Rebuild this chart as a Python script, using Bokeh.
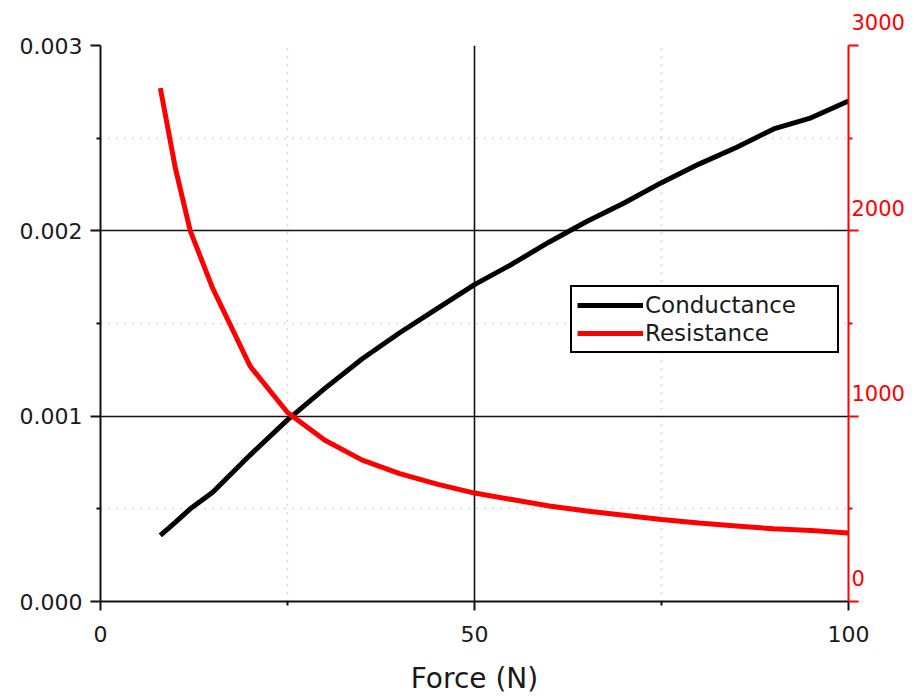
from bokeh.plotting import figure
from bokeh.models import (Range1d, LinearAxis, FixedTicker, PrintfTickFormatter,
                          Legend, LegendItem)
from bokeh.embed import file_html
from bokeh.resources import INLINE

# ---- data ----
force = [8, 10, 12, 15, 20, 25, 30, 35, 40, 45, 50, 55, 60, 65, 70, 75, 80, 85, 90, 95, 100]
conductance = [0.000357, 0.000427, 0.000500, 0.000590, 0.000790, 0.000980, 0.001150,
               0.001310, 0.001450, 0.001580, 0.001710, 0.001820, 0.001940, 0.002050,
               0.002150, 0.002260, 0.002360, 0.002450, 0.002550, 0.002610, 0.002700]
resistance = [2770, 2340, 2000, 1690, 1270, 1020, 870, 763, 690, 633, 585, 550, 515,
              488, 465, 442, 424, 408, 392, 383, 370]

x_ticks = [0, 50, 100]
x_minor = [25, 75]
left_ticks = [0.0, 0.001, 0.002, 0.003]
left_minor = [0.0005, 0.0015, 0.0025]
right_ticks = [0, 1000, 2000, 3000]
right_minor = [500, 1500, 2500]
right_labels = ["0", "1000", "2000", "3000"]

FONT = "DejaVu Sans"
TXT = "#1a1a1a"

p = figure(frame_width=748, frame_height=556, output_backend="svg", toolbar_location=None,
           x_range=Range1d(0, 100), y_range=Range1d(0, 0.003))
p.min_border_left = 100
p.min_border_right = 64
p.min_border_top = 45
p.min_border_bottom = 96
p.outline_line_color = None
p.background_fill_color = "white"
p.border_fill_color = "white"

p.extra_y_ranges = {"r": Range1d(0, 3000)}

# grids
p.xgrid.ticker = FixedTicker(ticks=[50], minor_ticks=x_minor)
p.ygrid.ticker = FixedTicker(ticks=[0.001, 0.002], minor_ticks=left_minor)
for g in (p.xgrid, p.ygrid):
    g.grid_line_color = "#111111"
    g.grid_line_width = 1.6
    g.minor_grid_line_color = "#b0b0b0"
    g.minor_grid_line_dash = "1 7"
    g.minor_grid_line_width = 1.5

# bottom axis
xa = p.xaxis[0]
xa.ticker = FixedTicker(ticks=x_ticks, minor_ticks=x_minor)
xa.axis_label = "Force (N)"
xa.axis_label_text_font = FONT
xa.axis_label_text_font_size = "28px"
xa.axis_label_text_font_style = "normal"
xa.axis_label_text_color = TXT
xa.axis_label_standoff = 17
xa.major_label_text_font = FONT
xa.major_label_text_font_size = "22px"
xa.major_label_text_color = TXT
xa.major_label_standoff = 15
xa.axis_line_width = 2
xa.axis_line_color = "#111111"
xa.major_tick_line_color = "#111111"
xa.major_tick_line_width = 2
xa.major_tick_in = 0
xa.major_tick_out = 9
xa.minor_tick_line_color = "#111111"
xa.minor_tick_line_width = 2
xa.minor_tick_in = 0
xa.minor_tick_out = 4

# left axis
ya = p.yaxis[0]
ya.ticker = FixedTicker(ticks=left_ticks, minor_ticks=left_minor)
ya.formatter = PrintfTickFormatter(format="%.3f")
ya.major_label_text_font = FONT
ya.major_label_text_font_size = "22px"
ya.major_label_text_color = TXT
ya.major_label_standoff = 8
ya.axis_line_width = 2
ya.axis_line_color = "#111111"
ya.major_tick_line_color = "#111111"
ya.major_tick_line_width = 2
ya.major_tick_in = 0
ya.major_tick_out = 10
ya.minor_tick_line_color = "#111111"
ya.minor_tick_line_width = 2
ya.minor_tick_in = 0
ya.minor_tick_out = 4

# right axis (red); labels sit above their ticks (two trailing empty lines)
ra = LinearAxis(y_range_name="r",
                ticker=FixedTicker(ticks=right_ticks, minor_ticks=right_minor))
ra.major_label_overrides = {v: t + "\n\n" for v, t in zip(right_ticks, right_labels)}
ra.major_label_text_font = FONT
ra.major_label_text_font_size = "21px"
ra.major_label_text_line_height = 0.93
ra.major_label_text_color = "red"
ra.major_label_standoff = -7
ra.axis_line_color = "red"
ra.axis_line_width = 2
ra.major_tick_line_color = "red"
ra.major_tick_line_width = 2
ra.major_tick_in = 0
ra.major_tick_out = 10
ra.minor_tick_line_color = "red"
ra.minor_tick_line_width = 2
ra.minor_tick_in = 0
ra.minor_tick_out = 4
p.add_layout(ra, "right")

# series
r1 = p.line(force, conductance, line_color="black", line_width=5)
r2 = p.line(force, resistance, y_range_name="r", line_color="red", line_width=5)

legend = Legend(items=[LegendItem(label="Conductance", renderers=[r1]),
                       LegendItem(label="Resistance", renderers=[r2])],
                location=(470, 248))
legend.label_text_font = FONT
legend.label_text_font_size = "23px"
legend.label_text_color = TXT
legend.label_width = 187
legend.glyph_width = 66
legend.glyph_height = 26
legend.label_standoff = 2
legend.spacing = 2
legend.padding = 5
legend.margin = 0
legend.border_line_color = "black"
legend.border_line_alpha = 1
legend.border_line_width = 2.5
legend.background_fill_alpha = 1
p.add_layout(legend, "center")

open("out.html", "w").write(file_html(p, INLINE))
